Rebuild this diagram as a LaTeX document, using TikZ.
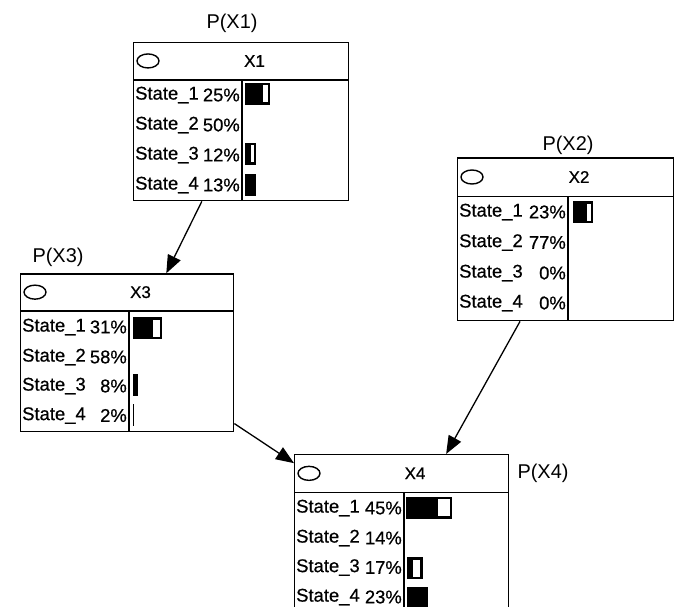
\documentclass[tikz,border=0pt]{standalone}
\usepackage{fontspec}
\setmainfont{Liberation Sans}
\newfontfamily\heavyfont[FakeBold=0.6]{Liberation Sans}
\usetikzlibrary{arrows.meta,shapes.geometric}
\tikzset{
  netbox/.style={draw=black, line width=1.4bp, inner sep=0pt, anchor=north west},
  sepline/.style={draw=black, line width=1.4bp},
  stateoval/.style={ellipse, draw=black, line width=1.4bp, inner sep=0pt, minimum width=22bp, minimum height=14bp},
  titletext/.style={inner sep=0pt, font=\heavyfont\fontsize{17}{19}\selectfont},
  probtext/.style={inner sep=0pt, font=\fontsize{20}{22}\selectfont},
  rowtext/.style={inner sep=0pt, font=\heavyfont\fontsize{18.5}{20}\selectfont},
  link/.style={draw=black, line width=1.3bp, -{Triangle[length=18bp,width=14bp]}},
  barfill/.style={fill=black},
  bargap/.style={fill=white},
}
% #1 name, #2 left, #3 top, #4 width, #5 header height, #6 total height, #7 divider x, #8 title
\newcommand\mynetbox[8]{%
  \node[netbox, minimum width=#4bp, minimum height=#6bp] (#1) at (#2,#3) {};
  \draw[sepline] (#2,#3+#5) -- (#2+#4,#3+#5);
  \draw[sepline] (#7,#3+#5) -- (#7,#3+#6);
  \node[stateoval] (#1oval) at (#2+15,#3+#5/2) {};
  \node[titletext] (#1title) at (#2+#4/2+14,#3+#5/2) {#8};
}
% #1 name, #2 left, #3 divider, #4 row centre, #5 state, #6 percent
\newcommand\myrow[6]{%
  \node[rowtext, anchor=west] (#1s#5) at (#2+2,#4) {State\_#5};
  \node[rowtext, anchor=east] (#1p#5) at (#3-2,#4) {#6};
}
% #1 x0, #2 x1, #3 row centre
\newcommand\mybar[3]{\fill[barfill] (#1,#3-11) rectangle (#2,#3+11);}
% #1 x0, #2 x1, #3 row centre
\newcommand\mygap[3]{\fill[bargap] (#1,#3-8.5) rectangle (#2,#3+8.5);}
\begin{document}
\begin{tikzpicture}[x=1bp,y=-1bp]
\useasboundingbox (0,0) rectangle (675,607);
\clip (0,0) rectangle (675,607);
\fill[white] (0,0) rectangle (675,607);

% X1
\mynetbox{x1}{133}{41.7}{215}{38.5}{158.3}{242}{X1}
\myrow{x1}{133}{242}{95}{1}{25\%}
\myrow{x1}{133}{242}{125}{2}{50\%}
\myrow{x1}{133}{242}{155}{3}{12\%}
\myrow{x1}{133}{242}{185}{4}{13\%}
\mybar{245}{270}{94}\mygap{263}{267.5}{94}
\mybar{245}{256}{154}\mygap{250.5}{253.5}{154}
\mybar{245}{256}{185}
\node[probtext] (px1) at (232,23) {P(X1)};

% X2
\mynetbox{x2}{457}{157.3}{216}{39.4}{162.7}{568}{X2}
\myrow{x2}{457}{568}{212}{1}{23\%}
\myrow{x2}{457}{568}{242.5}{2}{77\%}
\myrow{x2}{457}{568}{273}{3}{0\%}
\myrow{x2}{457}{568}{303}{4}{0\%}
\mybar{572.7}{593.3}{212}\mygap{586.7}{591}{212}
\node[probtext] (px2) at (568,145) {P(X2)};

% X3
\mynetbox{x3}{20}{273.3}{213}{37.7}{157.4}{129}{X3}
\myrow{x3}{20}{129}{327}{1}{31\%}
\myrow{x3}{20}{129}{357}{2}{58\%}
\myrow{x3}{20}{129}{386}{3}{8\%}
\myrow{x3}{20}{129}{415.5}{4}{2\%}
\mybar{132.7}{161.7}{328}\mygap{153.3}{159.5}{328}
\mybar{132.7}{138.3}{385}
\mybar{132.7}{134.2}{415}
\node[probtext] (px3) at (58,257) {P(X3)};

% X4
\mynetbox{x4}{294}{454}{214}{38.7}{158.7}{404}{X4}
\myrow{x4}{294}{404}{508}{1}{45\%}
\myrow{x4}{294}{404}{538}{2}{14\%}
\myrow{x4}{294}{404}{567.5}{3}{17\%}
\myrow{x4}{294}{404}{597}{4}{23\%}
\mybar{406}{451.7}{507.5}\mygap{438.3}{449.5}{507.5}
\mybar{407.3}{422.7}{568}\mygap{413.3}{420.3}{568}
\mybar{407.3}{428.3}{597.5}
\node[probtext] (px4) at (543,473) {P(X4)};

% links
\draw[link] (x1) -- (x3);
\draw[link] (x3) -- (x4);
\draw[link] (x2) -- (x4);
\end{tikzpicture}
\end{document}
